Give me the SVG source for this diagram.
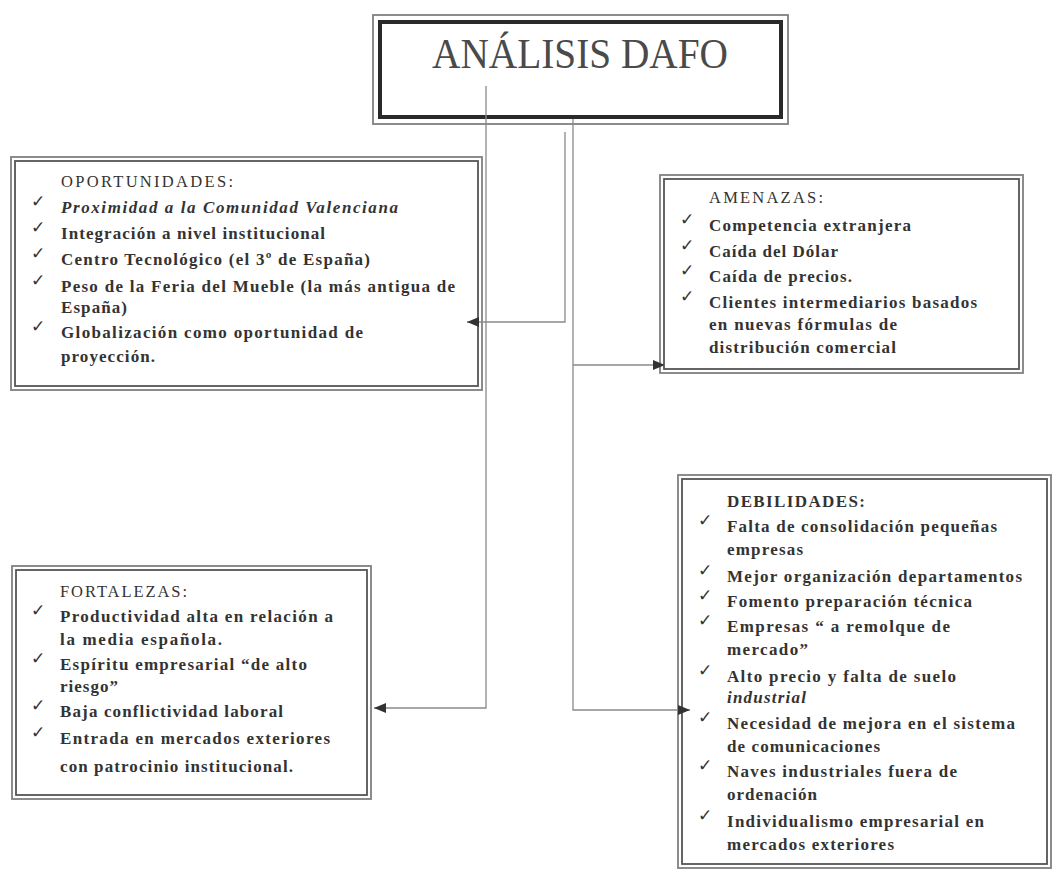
<svg xmlns="http://www.w3.org/2000/svg" width="1053" height="873" viewBox="0 0 1053 873">
<defs>
<style>
.bg{fill:#fff}
.bo{fill:#fff;stroke:#808080;stroke-width:1.8}
.bi{fill:none;stroke:#555;stroke-width:1.8}
.to{fill:#fff;stroke:#808080;stroke-width:1.8}
.ti{fill:none;stroke:#2a2a2a;stroke-width:4}
.title{font-family:"Liberation Serif",serif;font-size:43px;fill:#4a4a4a}
.h{font-family:"Liberation Serif",serif;font-size:16.5px;fill:#333}
.hb{font-family:"Liberation Serif",serif;font-size:17px;font-weight:bold;fill:#333}
.t{font-family:"Liberation Serif",serif;font-size:17px;font-weight:bold;fill:#333}
.it{font-style:italic}
.ck{font-family:"DejaVu Sans",sans-serif;font-size:17px;fill:#333}
.ln{fill:none;stroke:#8a8a8a;stroke-width:1.3}
</style>
<marker id="ah" viewBox="0 0 12 12" refX="12" refY="6" markerWidth="12" markerHeight="12" markerUnits="userSpaceOnUse" orient="auto">
<path d="M0,1 L12,6 L0,11 Z" fill="#333"/>
</marker>
</defs>
<rect class="bg" x="0" y="0" width="1053" height="873"/>

<g id="titulo">
<rect class="to" x="373" y="15" width="415" height="109"/>
<rect class="ti" x="380" y="22" width="401" height="95"/>
<text class="title" x="432" y="68" textLength="296" lengthAdjust="spacingAndGlyphs">ANÁLISIS DAFO</text>
</g>

<g id="oportunidades">
<rect class="bo" x="11" y="157" width="471" height="233"/>
<rect class="bi" x="15" y="161" width="463" height="225"/>
<text class="h" x="61" y="187" textLength="172">OPORTUNIDADES:</text>
<text class="ck" x="31" y="207">✓</text>
<text class="ck" x="31" y="233">✓</text>
<text class="ck" x="31" y="259">✓</text>
<text class="ck" x="31" y="286">✓</text>
<text class="ck" x="31" y="332">✓</text>
<text class="t it" x="61" y="213" textLength="337">Proximidad a la Comunidad Valenciana</text>
<text class="t" x="61" y="239" textLength="264">Integración a nivel institucional</text>
<text class="t" x="61" y="265" textLength="309">Centro Tecnológico (el 3º de España)</text>
<text class="t" x="61" y="292" textLength="394">Peso de la Feria del Mueble (la más antigua de</text>
<text class="t" x="61" y="313" textLength="66">España)</text>
<text class="t" x="61" y="338" textLength="302">Globalización como oportunidad de</text>
<text class="t" x="61" y="362" textLength="94">proyección.</text>
</g>

<g id="amenazas">
<rect class="bo" x="660" y="175" width="363" height="198"/>
<rect class="bi" x="664" y="179" width="355" height="190"/>
<text class="h" x="709" y="203" textLength="114">AMENAZAS:</text>
<text class="ck" x="680" y="225">✓</text>
<text class="ck" x="680" y="251">✓</text>
<text class="ck" x="680" y="276">✓</text>
<text class="ck" x="680" y="302">✓</text>
<text class="t" x="709" y="231" textLength="202">Competencia extranjera</text>
<text class="t" x="709" y="257" textLength="129">Caída del Dólar</text>
<text class="t" x="709" y="282" textLength="143">Caída de precios.</text>
<text class="t" x="709" y="308" textLength="268">Clientes intermediarios basados</text>
<text class="t" x="709" y="330" textLength="188">en nuevas fórmulas de</text>
<text class="t" x="709" y="353" textLength="187">distribución comercial</text>
</g>

<g id="fortalezas">
<rect class="bo" x="12" y="566" width="359" height="233"/>
<rect class="bi" x="16" y="570" width="351" height="225"/>
<text class="h" x="60" y="597" textLength="127">FORTALEZAS:</text>
<text class="ck" x="31" y="616">✓</text>
<text class="ck" x="31" y="664">✓</text>
<text class="ck" x="31" y="711">✓</text>
<text class="ck" x="31" y="738">✓</text>
<text class="t" x="60" y="622" textLength="273">Productividad alta en relación a</text>
<text class="t" x="60" y="645" textLength="162">la media española.</text>
<text class="t" x="60" y="670" textLength="247">Espíritu empresarial “de alto</text>
<text class="t" x="60" y="692" textLength="58">riesgo”</text>
<text class="t" x="60" y="717" textLength="223">Baja conflictividad laboral</text>
<text class="t" x="60" y="744" textLength="270">Entrada en mercados exteriores</text>
<text class="t" x="60" y="772" textLength="233">con patrocinio institucional.</text>
</g>

<g id="debilidades">
<rect class="bo" x="678" y="475" width="373" height="393"/>
<rect class="bi" x="682" y="479" width="365" height="385"/>
<text class="hb" x="727" y="507" textLength="138">DEBILIDADES:</text>
<text class="ck" x="698" y="526">✓</text>
<text class="ck" x="698" y="576">✓</text>
<text class="ck" x="698" y="601">✓</text>
<text class="ck" x="698" y="626">✓</text>
<text class="ck" x="698" y="676">✓</text>
<text class="ck" x="698" y="723">✓</text>
<text class="ck" x="698" y="771">✓</text>
<text class="ck" x="698" y="821">✓</text>
<text class="t" x="727" y="532" textLength="270">Falta de consolidación pequeñas</text>
<text class="t" x="727" y="555" textLength="76">empresas</text>
<text class="t" x="727" y="582" textLength="295">Mejor organización departamentos</text>
<text class="t" x="727" y="607" textLength="245">Fomento preparación técnica</text>
<text class="t" x="727" y="632" textLength="223">Empresas “ a remolque de</text>
<text class="t" x="727" y="655" textLength="81">mercado”</text>
<text class="t" x="727" y="682" textLength="229">Alto precio y falta de suelo</text>
<text class="t it" x="727" y="703" textLength="79">industrial</text>
<text class="t" x="727" y="729" textLength="288">Necesidad de mejora en el sistema</text>
<text class="t" x="727" y="752" textLength="153">de comunicaciones</text>
<text class="t" x="727" y="777" textLength="230">Naves industriales fuera de</text>
<text class="t" x="727" y="800" textLength="90">ordenación</text>
<text class="t" x="727" y="827" textLength="257">Individualismo empresarial en</text>
<text class="t" x="727" y="850" textLength="167">mercados exteriores</text>
</g>

<g id="conectores">
<path class="ln" d="M486,86 V708 H374" marker-end="url(#ah)"/>
<path class="ln" d="M565,132 V322 H467" marker-end="url(#ah)"/>
<path class="ln" d="M573,119 V710 H690" marker-end="url(#ah)"/>
<path class="ln" d="M573,365 H665" marker-end="url(#ah)"/>
</g>
</svg>
